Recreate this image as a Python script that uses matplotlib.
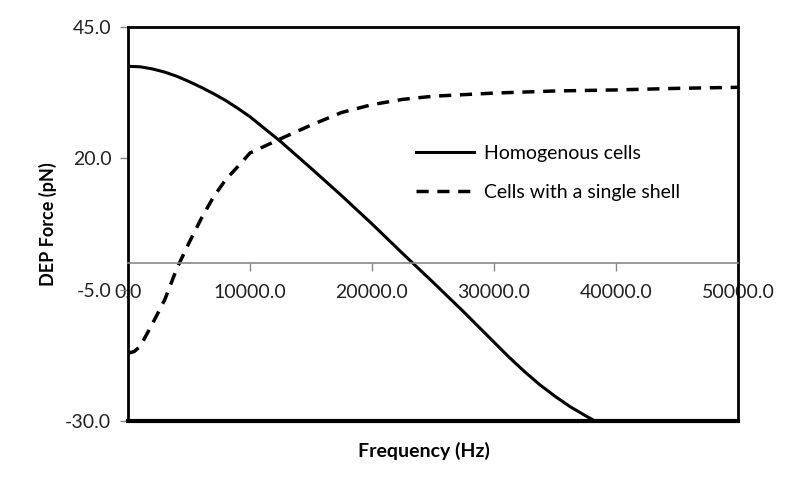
import numpy as np
import matplotlib
matplotlib.use("Agg")
import matplotlib.pyplot as plt
from matplotlib.lines import Line2D

plt.rcParams['font.family'] = ['Lato', 'DejaVu Sans']

# Homogenous cells (solid)
freq_homo = [0, 1000, 2000, 3000, 4000, 5000, 6000, 7000, 8000, 9000, 10000,
             12500, 15000, 17500, 20000, 22500, 25000, 27500, 30000, 31250, 32500,
             33750, 35000, 36250, 37500, 40000]
force_homo = [37.5, 37.4, 37.0, 36.4, 35.6, 34.6, 33.5, 32.3, 31.0, 29.5, 27.9,
              23.2, 18.1, 12.9, 7.5, 1.9, -3.6, -9.2, -15.0, -17.9, -20.6,
              -23.1, -25.3, -27.3, -29.0, -32.2]

# Cells with a single shell (dashed)
freq_shell = [0, 500, 1000, 2000, 3000, 4000, 5000, 6000, 7000, 8000, 9000, 10000,
              12500, 15000, 17500, 20000, 22500, 25000, 30000, 35000, 40000, 45000, 50000]
force_shell = [-17.1, -16.8, -15.8, -11.5, -7.0, -1.0, 3.9, 8.5, 12.6, 15.9, 18.4, 21.0,
               23.7, 26.3, 28.7, 30.2, 31.2, 31.8, 32.4, 32.8, 33.0, 33.3, 33.5]

xticks = [0, 10000, 20000, 30000, 40000, 50000]
yticks = [-30, -5, 20, 45]

fig = plt.figure(figsize=(8, 4.8), dpi=100)
ax = fig.add_axes([0.16, 0.123, 0.7625, 0.821])

ax.plot(freq_homo, force_homo, color='black', lw=2.2, label='Homogenous cells')
ax.plot(freq_shell, force_shell, color='black', lw=2.5, dashes=(3.5, 2.5),
        label='Cells with a single shell')

ax.set_xlim(0, 50000)
ax.set_ylim(-30, 45)

# x axis crosses at 0
ax.spines['bottom'].set_position(('data', 0))
ax.spines['bottom'].set_color('#888888')
ax.spines['bottom'].set_linewidth(1.2)
for s in ['top', 'right', 'left']:
    ax.spines[s].set_visible(False)

ax.set_xticks(xticks)
ax.set_xticklabels([f'{v:.1f}' for v in xticks])
ax.set_yticks(yticks)
ax.set_yticklabels([f'{v:.1f}' for v in yticks])
ax.tick_params(axis='both', direction='out', length=6, width=1, color='#888888',
               labelsize=14, labelcolor='#222222')
ax.tick_params(axis='x', pad=9)
ax.tick_params(axis='y', pad=6)

# plot area frame
frame_kw = dict(transform=ax.transAxes, color='black', clip_on=False, solid_capstyle='projecting')
ax.add_line(Line2D([0, 1], [1, 1], lw=2.0, **frame_kw))
ax.add_line(Line2D([1, 1], [0, 1], lw=2.0, **frame_kw))
ax.add_line(Line2D([0, 0], [0, 1], lw=2.0, **frame_kw))
ax.add_line(Line2D([0, 1], [0, 0], lw=3.0, **frame_kw))

ax.set_ylabel('DEP Force (pN)', fontsize=13, fontweight='bold', labelpad=6)
fig.text(424 / 800, 1 - 451 / 480, 'Frequency (Hz)', fontsize=14, fontweight='bold',
         ha='center', va='center')

leg = ax.legend(loc='upper left', bbox_to_anchor=(0.443, 0.745), frameon=False,
                fontsize=14, handlelength=3.0, handletextpad=0.5, labelspacing=1.15)

fig.savefig('out.png', dpi=100)
